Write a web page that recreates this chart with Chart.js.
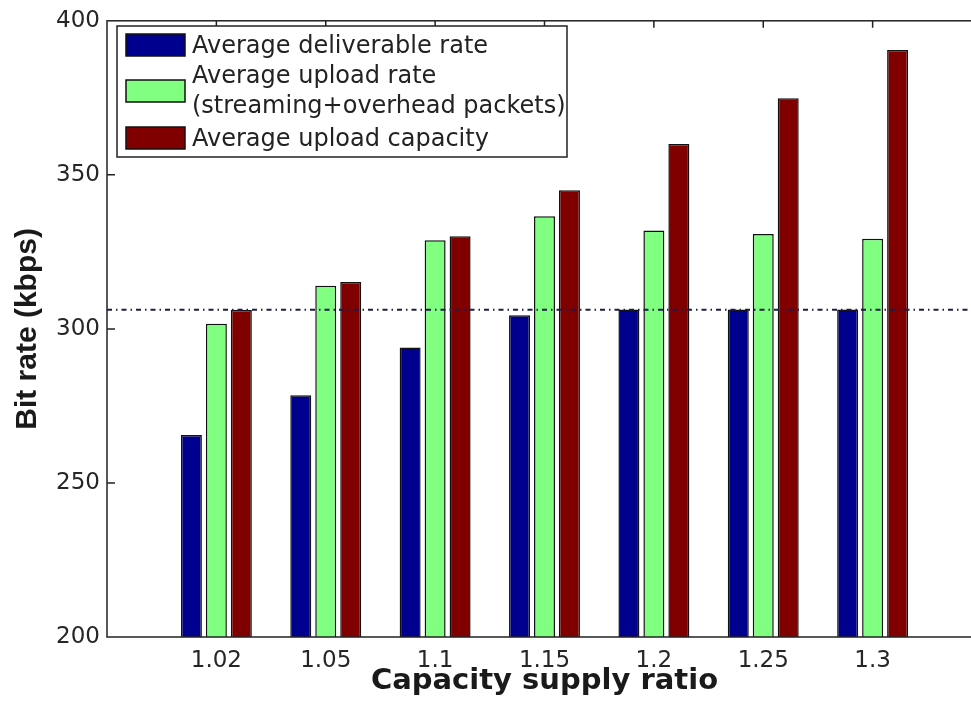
<!DOCTYPE html>
<html>
<head>
<meta charset="utf-8">
<script src="https://cdn.jsdelivr.net/npm/chart.js@4/dist/chart.umd.min.js"></script>
<style>
html,body{margin:0;padding:0;background:#fff;overflow:hidden;width:971px;height:702px;}
canvas{display:block;}
</style>
</head>
<body>
<canvas id="chart" width="985" height="702"></canvas>
<script>
/* values */
let ratios = ["1.02","1.05","1.1","1.15","1.2","1.25","1.3"];
let deliverable = [265.6, 278.5, 294.0, 304.4, 306.3, 306.3, 306.3];
let uploadRate = [301.7, 314.0, 328.8, 336.6, 331.9, 330.8, 329.3];
let uploadCapacity = [306.1, 315.2, 330.1, 345.0, 360.0, 374.9, 390.5];
let streamRate = 306.2;
let yTicks = [200, 250, 300, 350, 400];

let seriesNames = [
    ["Average deliverable rate"],
    ["Average upload rate","(streaming+overhead packets)"],
    ["Average upload capacity"]
];
let seriesColors = ["#00008f","#80ff80","#800000"];

function points(vals){
    return vals.map((v,i)=>({x:i+1,y:v}));
}

/* Frame, inward ticks, dash-dot reference line and legend box */
const framePlugin = {
    id:"frame",
    afterDatasetsDraw(chart){
        const {ctx, chartArea:a, scales:{x,y}} = chart;
        ctx.save();
        let ry = y.getPixelForValue(streamRate);
        ctx.strokeStyle = "#1c1c4a";
        ctx.lineWidth = 2;
        ctx.setLineDash([5,4,1.5,4]);
        ctx.beginPath();
        ctx.moveTo(a.left, ry);
        ctx.lineTo(a.right, ry);
        ctx.stroke();
        ctx.setLineDash([]);

        ctx.strokeStyle = "#222";
        ctx.lineWidth = 1.5;
        ctx.strokeRect(a.left, a.top, a.right-a.left, a.bottom-a.top);
        ctx.beginPath();
        ratios.forEach((r,i)=>{
            let px = x.getPixelForValue(i+1);
            ctx.moveTo(px, a.top);
            ctx.lineTo(px, a.top+7);
        });
        yTicks.slice(1,-1).forEach(t=>{
            let py = y.getPixelForValue(t);
            ctx.moveTo(a.left, py);
            ctx.lineTo(a.left+8, py);
            ctx.moveTo(a.right, py);
            ctx.lineTo(a.right-8, py);
        });
        ctx.stroke();
        ctx.restore();
    },
    afterDraw(chart){
        const ctx = chart.ctx;
        ctx.save();
        ctx.fillStyle = "#fff";
        ctx.fillRect(117, 26, 450, 131);
        ctx.strokeStyle = "#222";
        ctx.lineWidth = 1.5;
        ctx.strokeRect(117, 26, 450, 131);

        ctx.font = "24px 'DejaVu Sans'";
        ctx.textBaseline = "alphabetic";
        let baselines = [[53],[83,113],[146]];
        let swatchY = [34, 80, 127];
        chart.data.datasets.forEach((ds,i)=>{
            ctx.fillStyle = ds.backgroundColor;
            ctx.fillRect(126, swatchY[i], 59, 22);
            ctx.strokeStyle = "#111";
            ctx.lineWidth = 1.5;
            ctx.strokeRect(126, swatchY[i], 59, 22);
            ctx.fillStyle = "#222";
            seriesNames[i].forEach((line,j)=>{
                ctx.fillText(line, 192, baselines[i][j]);
            });
        });
        ctx.restore();
    }
};

new Chart(document.getElementById("chart"),{
    type:"bar",
    data:{
        datasets:[
            {label:seriesNames[0].join(" "), data:points(deliverable), backgroundColor:seriesColors[0]},
            {label:seriesNames[1].join(" "), data:points(uploadRate), backgroundColor:seriesColors[1]},
            {label:seriesNames[2].join(" "), data:points(uploadCapacity), backgroundColor:seriesColors[2]}
        ]
    },
    options:{
        responsive:false,
        animation:false,
        // the canvas is a little wider than the page: the right edge of the axes box is cut off, as in the figure
        layout:{autoPadding:false, padding:{top:19,right:3,left:0,bottom:0}},
        datasets:{
            bar:{
                categoryPercentage:0.685,
                barPercentage:0.84,
                borderColor:"#111",
                borderWidth:1.5
            }
        },
        plugins:{
            legend:{display:false},
            tooltip:{enabled:false}
        },
        scales:{
            x:{
                type:"linear",
                min:0,
                max:8,
                offset:false,
                grid:{display:false, drawTicks:false, offset:false},
                border:{display:false},
                afterFit(scale){
                    scale.height = 65;
                    scale.paddingLeft = 0;
                    scale.paddingRight = 0;
                },
                ticks:{
                    stepSize:1,
                    autoSkip:false,
                    padding:10,
                    color:"#262626",
                    font:{family:"'DejaVu Sans'", size:23},
                    callback:(v)=>ratios[v-1] || ""
                },
                title:{
                    display:true,
                    text:"Capacity supply ratio",
                    color:"#1a1a1a",
                    font:{family:"'DejaVu Sans'", size:29, weight:"bold"},
                    padding:{top:0,bottom:3}
                }
            },
            y:{
                min:200,
                max:400,
                grid:{display:false, drawTicks:false},
                border:{display:false},
                afterFit(scale){ scale.width = 107; },
                ticks:{
                    stepSize:50,
                    padding:7,
                    color:"#262626",
                    font:{family:"'DejaVu Sans'", size:23}
                },
                title:{
                    display:true,
                    text:"Bit rate (kbps)",
                    color:"#1a1a1a",
                    font:{family:"'Liberation Sans'", size:30, weight:"bold"},
                    padding:{top:10,bottom:0}
                }
            }
        }
    },
    plugins:[framePlugin]
});
</script>
</body>
</html>
